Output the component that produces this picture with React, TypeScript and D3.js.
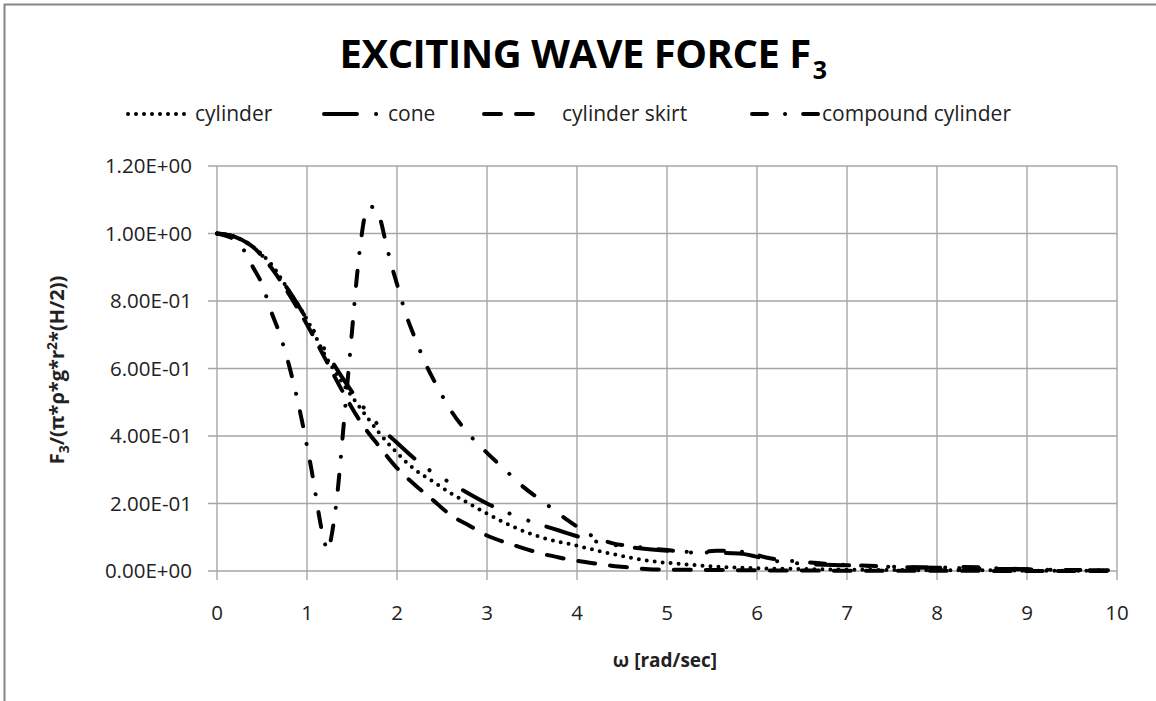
import * as d3 from "d3";

// ω [rad/sec] and F3 / (π ρ g r² H/2)
const cylinderX = [0, 0.2, 0.4, 0.6, 0.8, 1.0, 1.2, 1.4, 1.6, 1.8, 2.0, 2.2, 2.4, 2.6, 2.8, 3.0, 3.3, 3.6, 4.0, 4.4, 4.8, 5.2, 5.6, 6.0, 6.5, 7.0, 7.5, 8.0, 8.5, 9.0, 9.5, 9.9];
const cylinderY = [1.0, 0.99, 0.96, 0.91, 0.83, 0.745, 0.64, 0.555, 0.48, 0.41, 0.35, 0.3, 0.265, 0.23, 0.2, 0.17, 0.13, 0.1, 0.075, 0.05, 0.03, 0.02, 0.012, 0.008, 0.006, 0.004, 0.003, 0.002, 0.002, 0.001, 0.001, 0.001];

const coneX = [0, 0.2, 0.4, 0.6, 0.8, 1.0, 1.2, 1.4, 1.6, 1.8, 2.0, 2.3, 2.6, 3.0, 3.4, 3.8, 4.2, 4.6, 5.0, 5.4, 5.8, 6.2, 6.6, 7.0, 7.5, 8.0, 8.5, 9.0, 9.5, 9.9];
const coneY = [1.0, 0.99, 0.96, 0.905, 0.83, 0.745, 0.655, 0.57, 0.495, 0.43, 0.38, 0.31, 0.26, 0.2, 0.155, 0.12, 0.088, 0.07, 0.06, 0.055, 0.052, 0.03, 0.02, 0.017, 0.012, 0.01, 0.007, 0.005, 0.003, 0.002];

const skirtX = [0, 0.2, 0.4, 0.6, 0.8, 1.0, 1.2, 1.4, 1.6, 1.8, 2.0, 2.2, 2.4, 2.6, 2.8, 3.0, 3.2, 3.4, 3.6, 3.8, 4.0, 4.2, 4.4, 4.6, 4.8, 5.0, 5.5, 6.0, 7.0, 8.0, 9.0, 9.9];
const skirtY = [1.0, 0.99, 0.96, 0.9, 0.82, 0.73, 0.63, 0.53, 0.44, 0.37, 0.305, 0.255, 0.21, 0.165, 0.135, 0.105, 0.085, 0.068, 0.052, 0.04, 0.03, 0.022, 0.015, 0.01, 0.005, 0.004, 0.003, 0.002, 0.001, 0.001, 0.0, 0.0];

const compoundX = [0, 0.2, 0.3, 0.4, 0.5, 0.6, 0.7, 0.8, 0.9, 1.0, 1.05, 1.1, 1.15, 1.2, 1.23, 1.27, 1.3, 1.33, 1.36, 1.4, 1.45, 1.5, 1.55, 1.6, 1.65, 1.7, 1.75, 1.8, 1.87, 1.94, 2.0, 2.1, 2.2, 2.32, 2.45, 2.6, 2.8, 3.0, 3.2, 3.4, 3.65, 3.9, 4.2, 4.4, 4.65, 5.0, 5.3, 5.55, 5.9, 6.1, 6.5, 7.0, 7.5, 8.0, 8.3, 8.7, 9.0, 9.5, 9.9];
const compoundY = [1.0, 0.98, 0.95, 0.9, 0.85, 0.77, 0.7, 0.61, 0.5, 0.37, 0.3, 0.22, 0.14, 0.08, 0.06, 0.1, 0.15, 0.21, 0.29, 0.41, 0.56, 0.71, 0.86, 0.98, 1.06, 1.08, 1.075, 1.055, 0.98, 0.905, 0.85, 0.76, 0.69, 0.613, 0.545, 0.475, 0.405, 0.35, 0.3, 0.25, 0.2, 0.15, 0.1, 0.082, 0.072, 0.062, 0.055, 0.06, 0.055, 0.04, 0.027, 0.018, 0.013, 0.01, 0.012, 0.008, 0.005, 0.003, 0.002];

const seriesNames = ["cylinder", "cone", "cylinder skirt", "compound cylinder"];
const xTicks = [0, 1, 2, 3, 4, 5, 6, 7, 8, 9, 10];
const yTicks = [0, 0.2, 0.4, 0.6, 0.8, 1.0, 1.2];

const W = 1156;
const H = 701;
const FONT = "'Open Sans', 'Noto Sans', sans-serif";
const GRID = "#a6a6a6";

// Excel-ish scientific labels: 1.20E+00
const sci = (v: number) => {
  const [m, e] = v.toExponential(2).split("e");
  const n = +e;
  return m + "E" + (n < 0 ? "-" : "+") + String(Math.abs(n)).padStart(2, "0");
};

export default function App() {
  const x = d3.scaleLinear().domain([0, 10]).range([217, 1117]);
  const y = d3.scaleLinear().domain([0, 1.2]).range([571, 166]);

  const line = d3
    .line<[number, number]>()
    .x((d) => x(d[0]))
    .y((d) => y(d[1]))
    .curve(d3.curveMonotoneX);

  const zip = (xs: number[], ys: number[]) => xs.map((v, i) => [v, ys[i]] as [number, number]);

  const series = [
    { pts: zip(cylinderX, cylinderY), dash: "0 8" },
    { pts: zip(coneX, coneY), dash: "33 19 0.1 20 0.1 19" },
    { pts: zip(skirtX, skirtY), dash: "17 15" },
    { pts: zip(compoundX, compoundY), dash: "15 18 0.1 18" },
  ];

  // legend: line sample span, text start
  const legend = [
    { x1: 128, x2: 188, tx: 195 },
    { x1: 324, x2: 380, tx: 388 },
    { x1: 484, x2: 533, tx: 562 },
    { x1: 752, x2: 818, tx: 822 },
  ];

  return (
    <svg
      width={W}
      height={H}
      style={{ position: "absolute", left: 0, top: 0, background: "#fff" }}
      fontFamily={FONT}
    >
      {/* chart frame */}
      <rect x={4.5} y={4.5} width={W + 50} height={H + 50} fill="none" stroke="#868686" strokeWidth={2} />

      {/* title, with subscript in the same text element */}
      <text x={583} y={68} textAnchor="middle" fontSize={40} fontWeight="bold" fill="#000" letterSpacing={-0.5}>
        EXCITING WAVE FORCE F
        <tspan dx={2} dy={11} fontSize={25}>3</tspan>
      </text>

      {/* legend */}
      {legend.map((l, i) => (
        <g key={seriesNames[i]}>
          <line
            x1={l.x1}
            x2={l.x2}
            y1={114}
            y2={114}
            stroke="#000"
            strokeWidth={4}
            strokeLinecap="round"
            strokeDasharray={series[i].dash}
          />
          <text x={l.tx} y={121} fontSize={21} fill="#222">
            {seriesNames[i]}
          </text>
        </g>
      ))}

      {/* grid */}
      {yTicks.map((t) => (
        <line key={"gy" + t} x1={208} x2={x(10)} y1={y(t)} y2={y(t)} stroke={GRID} strokeWidth={1.4} />
      ))}
      {xTicks.map((t) => (
        <line key={"gx" + t} x1={x(t)} x2={x(t)} y1={y(1.2)} y2={580} stroke={GRID} strokeWidth={1.4} />
      ))}

      {/* y tick labels */}
      {yTicks.map((t) => (
        <text key={"ly" + t} x={192} y={y(t)} dy="0.36em" textAnchor="end" fontSize={20.5} fill="#222">
          {sci(t)}
        </text>
      ))}
      {/* x tick labels */}
      {xTicks.map((t) => (
        <text key={"lx" + t} x={x(t)} y={620} textAnchor="middle" fontSize={20.5} fill="#222">
          {t}
        </text>
      ))}

      {/* axis titles */}
      <text x={665} y={667} textAnchor="middle" fontSize={19} fontWeight="bold" fill="#222">
        ω [rad/sec]
      </text>
      <text transform="translate(64,370) rotate(-90)" textAnchor="middle" fontSize={20} fontWeight="bold" fill="#222">
        F<tspan dy={5} fontSize={14}>3</tspan>
        <tspan dy={-5}>/(π*ρ*g*r</tspan>
        <tspan dy={-7} fontSize={14}>2</tspan>
        <tspan dy={7}>*(H/2))</tspan>
      </text>

      {/* series */}
      {series.map((s, i) => (
        <path
          key={seriesNames[i]}
          d={line(s.pts) ?? ""}
          fill="none"
          stroke="#000"
          strokeWidth={4}
          strokeLinecap="round"
          strokeLinejoin="round"
          strokeDasharray={s.dash}
        />
      ))}
    </svg>
  );
}
